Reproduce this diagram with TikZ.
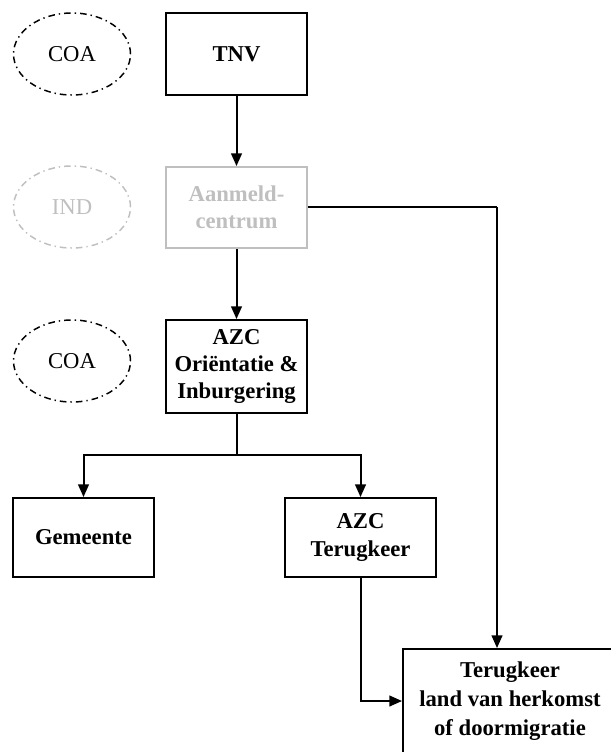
\documentclass[tikz,border=0pt]{standalone}
\usepackage{fontspec}
\setmainfont{Liberation Serif}
\usetikzlibrary{arrows.meta,shapes.geometric}

\tikzset{
  blok/.style={draw, line width=1.4pt, inner sep=0pt, align=center,
    minimum width=105.75pt, font=\fontsize{17}{20.5}\selectfont\bfseries},
  wolk/.style={ellipse, draw, line width=1.1pt, inner sep=0pt,
    dash pattern=on 5pt off 3pt on 1pt off 3pt,
    minimum width=87.75pt, minimum height=61.5pt, font=\fontsize{17}{20}\selectfont},
  pijl/.style={-{Triangle[width=8pt,length=9.5pt]}, line width=1.5pt},
  lijn/.style={line width=1.5pt},
}

\begin{document}
\begin{tikzpicture}[x=0.75pt,y=-0.75pt]
  \useasboundingbox (0,0) rectangle (610,752);

  \node[wolk] (coa1) at (72,54) {COA};
  \node[wolk, draw=black!25, text=black!25] (ind) at (72,207) {IND};
  \node[wolk] (coa2) at (72,361) {COA}; %ellipsen links

  \node[blok, minimum height=61.5pt] (tnv) at (236.5,54) {TNV};
  \node[blok, minimum height=60.75pt, draw=black!25, text=black!25] (aanmeld) at (236.5,207.5) {Aanmeld-\\centrum};
  \node[blok, minimum height=69.75pt] (azc) at (236.5,366.5) {AZC\\Oriëntatie \&\\Inburgering};
  \node[blok, minimum height=59.25pt] (gemeente) at (83.5,537.5) {Gemeente};
  \node[blok, minimum height=59.25pt, minimum width=113.25pt] (azct) at (360.5,537.5) {AZC\\Terugkeer};
  \node[blok, minimum height=78pt, minimum width=160.5pt,
    font=\fontsize{17}{22}\selectfont\bfseries] (terug) at (510,701) {Terugkeer\\land van herkomst\\of doormigratie};

  \coordinate (split) at (236.5,455);
  \coordinate (bocht) at (497,207.5);

  \draw[pijl] (tnv) -- (aanmeld);
  \draw[pijl] (aanmeld) -- (azc);
  \draw[lijn] (azc) -- (split);
  \draw[pijl] (split) -| (gemeente);
  \draw[pijl] (split) -| (azct);
  \draw[lijn] (aanmeld) -- (bocht);
  \draw[pijl] (bocht) -- (bocht |- terug.north);
  \draw[pijl] (azct) |- (terug);
\end{tikzpicture}
\end{document}
